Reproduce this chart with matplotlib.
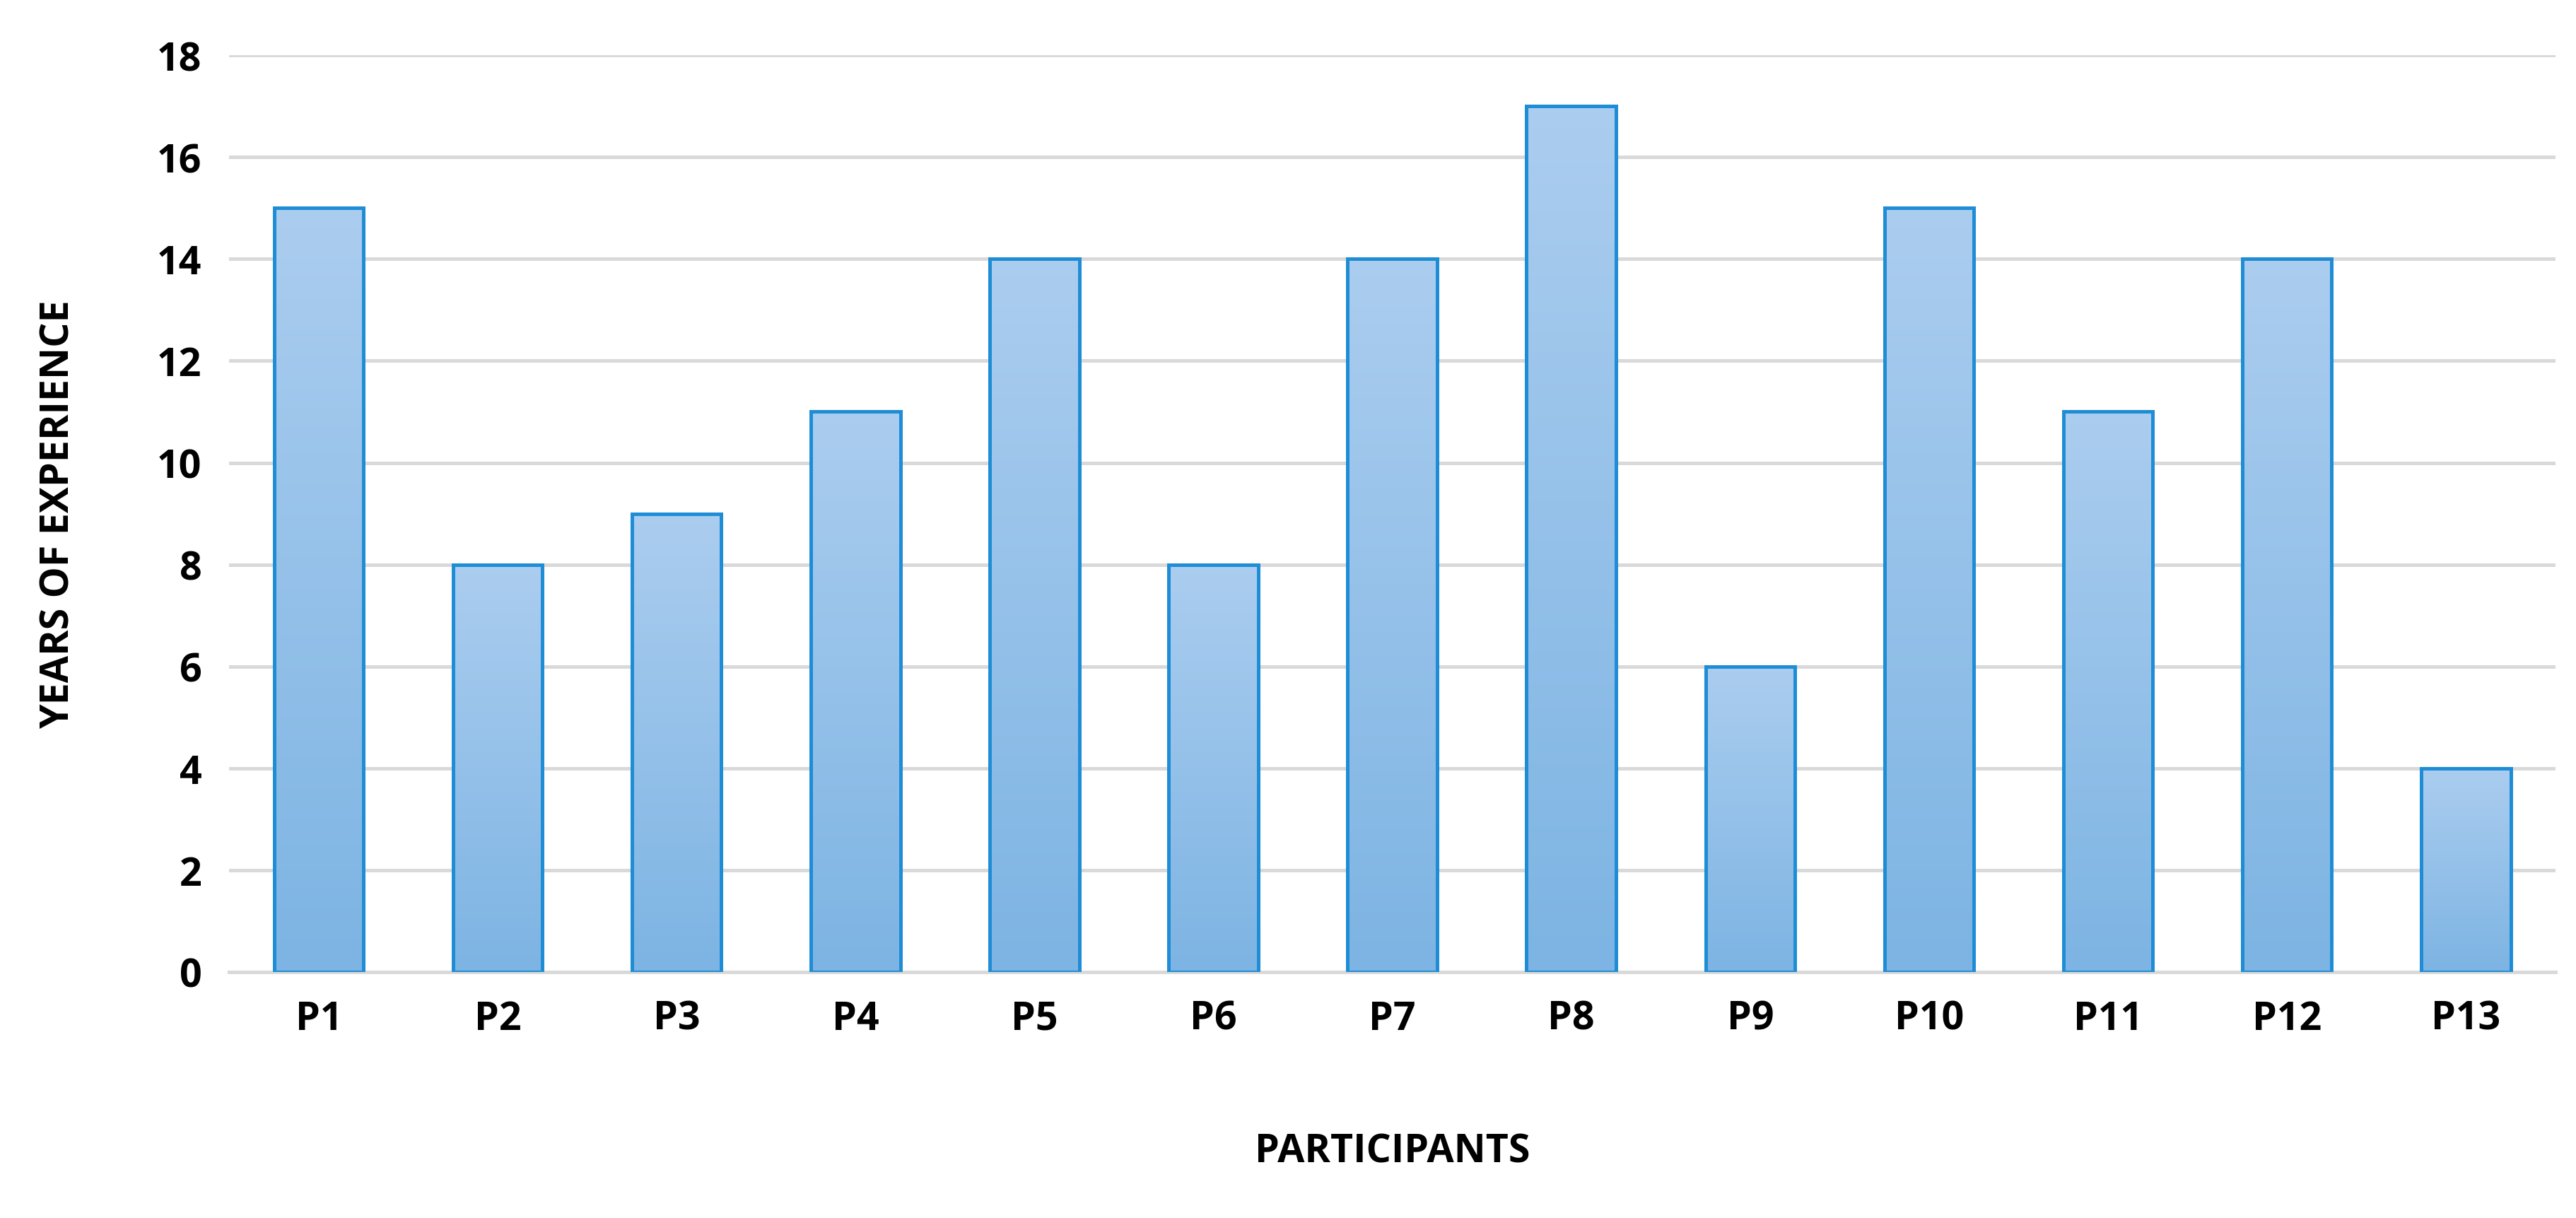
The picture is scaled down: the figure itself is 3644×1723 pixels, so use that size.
import numpy as np
import matplotlib.pyplot as plt
from matplotlib.colors import LinearSegmentedColormap

participants = ['P1', 'P2', 'P3', 'P4', 'P5', 'P6', 'P7', 'P8', 'P9', 'P10', 'P11', 'P12', 'P13']
years = [15, 8, 9, 11, 14, 8, 14, 17, 6, 15, 11, 14, 4]
yticks = [0, 2, 4, 6, 8, 10, 12, 14, 16, 18]

plt.rcParams['font.family'] = ['Open Sans', 'DejaVu Sans']

fig = plt.figure(figsize=(18.22, 8.62), dpi=200)
ax = fig.add_axes([0.089, 0.202, 0.903, 0.752])

x = np.arange(len(participants))
bars = ax.bar(x, years, width=0.5, facecolor='none', edgecolor='#1f8dd6', linewidth=1.8, zorder=3)

# vertical gradient inside each bar
cmap = LinearSegmentedColormap.from_list('grad', ['#7db4e3', '#abcdef'])
grad = np.linspace(0, 1, 256).reshape(-1, 1)
for b in bars:
    x0, y0 = b.get_x(), b.get_y()
    w, h = b.get_width(), b.get_height()
    im = ax.imshow(grad, cmap=cmap, origin='lower', aspect='auto',
                   extent=[x0, x0 + w, y0, y0 + h], zorder=2)
    im.set_clip_path(b)

ax.set_xlim(-0.5, len(participants) - 0.5)
ax.set_ylim(0, 18)
ax.set_yticks(yticks)
ax.set_xticks(x)
ax.set_xticklabels(participants)
ax.grid(axis='y', color='#d9d9d9', linewidth=1.8, zorder=0)
ax.set_axisbelow(True)
for s in ['top', 'right', 'left']:
    ax.spines[s].set_visible(False)
ax.spines['bottom'].set_color('#d9d9d9')
ax.spines['bottom'].set_linewidth(1.8)
ax.tick_params(length=0, labelsize=20, pad=14)
for lab in ax.get_xticklabels() + ax.get_yticklabels():
    lab.set_fontweight('bold')

ax.set_xlabel('PARTICIPANTS', fontsize=20, fontweight='bold', labelpad=48)
ax.set_ylabel('YEARS OF EXPERIENCE', fontsize=20, fontweight='bold', labelpad=40)

fig.savefig('out.png', dpi=200)
